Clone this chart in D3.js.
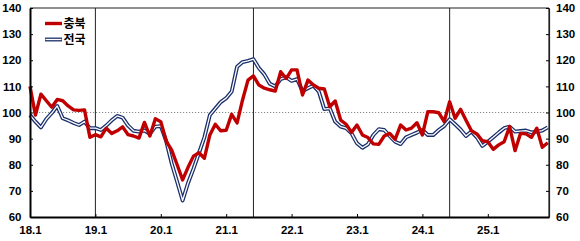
<!DOCTYPE html>
<html><head><meta charset="utf-8">
<script src="https://cdn.jsdelivr.net/npm/d3@7"></script>
<style>
html,body{margin:0;padding:0;background:#fff;}
svg{display:block;}
text{font-family:"Liberation Sans",Arial,sans-serif;font-weight:bold;fill:#000;}
</style></head>
<body><svg id="c" width="580" height="241"></svg>
<script>
const monthIndex = d3.range(96); // 2018.1 .. 2025.12
const tickIdx = [0,12,24,36,48,60,72,84];
const tickLabels = ["18.1","19.1","20.1","21.1","22.1","23.1","24.1","25.1"];
const yTicks = [60,70,80,90,100,110,120,130,140];
const refLines = [12,41,77];
const seriesNames = ["충북","전국"];
const chungbuk = [110,99,107,104.5,102,105,104.5,102.5,101,100.8,101,90.5,
  91.5,90.7,94,92,93,94.5,91.5,91,90.2,96.2,91,97.6,
  96.5,89,85.6,80,74.2,79,83.3,84.6,82.5,91.4,95.5,93,
  93.2,99.3,96,104.8,112.4,114,110.5,109.3,108.7,108.2,115.6,113,
  116.3,116.3,106.7,112.4,110.5,109.3,109,102.2,104.4,97.1,95.5,92.4,
  95.2,91.4,90.4,88,87.8,91,92,89.7,95.2,93.3,94,96.1,
  91.4,100.3,100.3,99.9,96.5,104.1,97.8,101.2,97,93,91.8,89.2,
  88.8,85.9,87.6,88.8,94.6,85.4,92,91.8,90.5,94,86.7,88.4];
const national = [99,96.5,94.3,97.5,99.8,102.5,97.8,97,96,95.2,96.5,94,
  94,93.3,95,97,98.7,98,95,93,92.7,93.1,91.8,94.6,
  94.8,89,80.5,73.5,66.3,73,78.5,84.5,90.5,99,101.5,104,
  105.5,108,117.5,119.3,119.8,120.4,117,114.6,111,110,112.8,113.5,
  112.1,112.8,108.2,109.3,110.3,108,101.3,101.6,96.5,94.6,94,92,
  88.2,86.5,87.8,91.4,93.6,93.3,91,88.8,87.9,90.5,91.4,92.3,
  93.3,91.4,91.4,93.3,94.8,97.4,95.5,93.5,91,92.7,90.5,87.2,
  88.8,90.5,92.3,94,94.6,92.7,92.9,93.1,92.4,92.7,93.1,94.3];

const L=30, R=549, T=8, B=217;
const svg = d3.select("#c");
const x = d3.scaleLinear().domain([0,95.23]).range([L,R]);
const y = d3.scaleLinear().domain([60,140]).range([B,T]);

// reference dotted line at 100
svg.append("line").attr("x1",L).attr("x2",R).attr("y1",y(100)).attr("y2",y(100))
  .attr("stroke","#8a8a8a").attr("stroke-width",1).attr("stroke-dasharray","1.2,1.8");

// vertical reference lines
svg.selectAll("line.ref").data(refLines).join("line").attr("class","ref")
  .attr("x1",d=>x(d)).attr("x2",d=>x(d)).attr("y1",T).attr("y2",B)
  .attr("stroke","#222").attr("stroke-width",1);

const line = d3.line().x((d,i)=>x(monthIndex[i])).y(d=>y(d));
// national: double line
svg.append("path").datum(national).attr("d",line).attr("fill","none")
  .attr("stroke","#1b2f6b").attr("stroke-width",3.9).attr("stroke-linejoin","round");
svg.append("path").datum(national).attr("d",line).attr("fill","none")
  .attr("stroke","#fff").attr("stroke-width",1.3).attr("stroke-linejoin","round");
// chungbuk
svg.append("path").datum(chungbuk).attr("d",line).attr("fill","none")
  .attr("stroke","#c00000").attr("stroke-width",3.4).attr("stroke-linejoin","round");

// frame
svg.append("line").attr("x1",L).attr("x2",R).attr("y1",T).attr("y2",T).attr("stroke","#222").attr("stroke-width",1.2);
svg.append("line").attr("x1",R).attr("x2",R).attr("y1",T).attr("y2",B).attr("stroke","#222").attr("stroke-width",1.2);

// axes
const yl = svg.append("g").attr("transform",`translate(${L},0)`)
  .call(d3.axisLeft(y).tickValues(yTicks).tickSizeInner(-3).tickSizeOuter(0).tickPadding(8.5));
const yr = svg.append("g").attr("transform",`translate(${R},0)`)
  .call(d3.axisRight(y).tickValues(yTicks).tickSizeInner(-3).tickSizeOuter(0).tickPadding(7));
const xa = svg.append("g").attr("transform",`translate(0,${B})`)
  .call(d3.axisBottom(x).tickValues(tickIdx).tickFormat((d,i)=>tickLabels[i]).tickSizeInner(-3).tickSizeOuter(0).tickPadding(9));
[yl,yr,xa].forEach(g=>{
  g.selectAll("text").style("font-size","11.5px").style("font-family","'Liberation Sans',Arial,sans-serif").style("font-weight","bold").attr("fill","#000");
  g.selectAll(".tick line").attr("stroke","#000");
});
yl.select(".domain").attr("stroke","#000").attr("stroke-width",2);
xa.select(".domain").attr("stroke","#000").attr("stroke-width",2);
yr.select(".domain").attr("stroke","#222").attr("stroke-width",1.2);

// legend
const lg = svg.append("g");
lg.append("line").attr("x1",45).attr("x2",62).attr("y1",23.5).attr("y2",23.5).attr("stroke","#c00000").attr("stroke-width",3.4);
lg.append("line").attr("x1",45).attr("x2",62).attr("y1",39.5).attr("y2",39.5).attr("stroke","#1b2f6b").attr("stroke-width",3.9);
lg.append("line").attr("x1",45.5).attr("x2",61.5).attr("y1",39.5).attr("y2",39.5).attr("stroke","#fff").attr("stroke-width",1.3);
lg.selectAll("text").data(seriesNames).join("text")
  .attr("x",63.5).attr("y",(d,i)=>23.5+16*i).attr("dy","0.36em")
  .style("font-family","'Noto Sans CJK KR',sans-serif").style("font-size","12px").style("font-weight","bold")
  .text(d=>d);
</script></body></html>
